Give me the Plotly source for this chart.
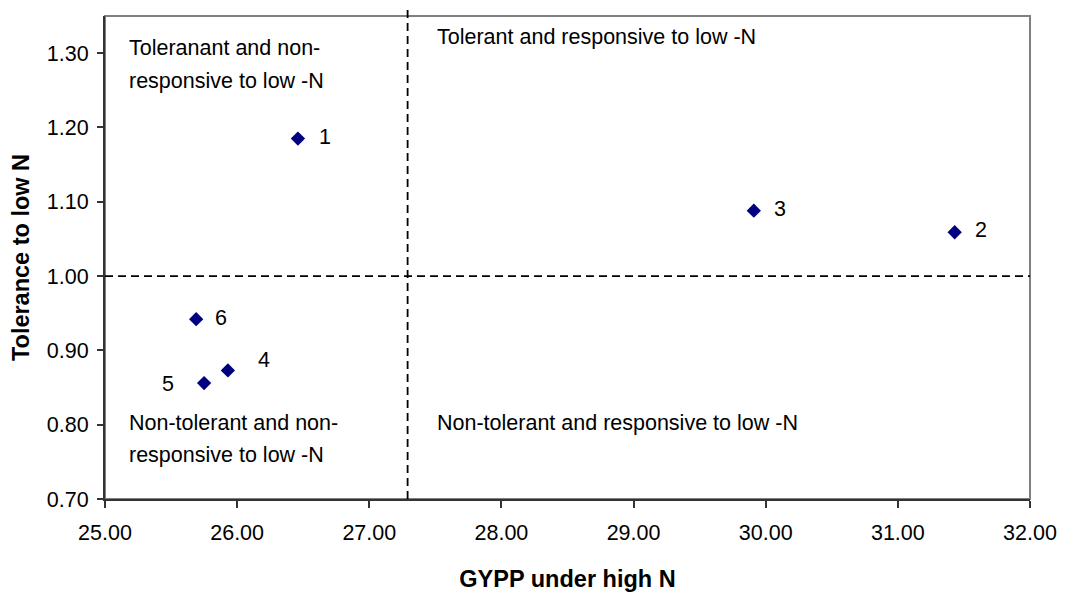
import plotly.graph_objects as go

# ---- data ----
genotype_labels = ["1", "2", "3", "4", "5", "6"]
gypp_high_n = [26.46, 31.43, 29.91, 25.93, 25.75, 25.69]
tolerance_low_n = [1.185, 1.059, 1.088, 0.873, 0.856, 0.942]

x_divider = 27.29
y_divider = 1.0

x_ticks = [25, 26, 27, 28, 29, 30, 31, 32]
y_ticks = [0.70, 0.80, 0.90, 1.00, 1.10, 1.20, 1.30]

quadrant_texts = [
    ("Toleranant and non-", 25.163, 1.3075),
    ("responsive to low -N", 25.163, 1.2627),
    ("Tolerant and responsive to low -N", 27.50, 1.322),
    ("Non-tolerant and non-", 25.163, 0.802),
    ("responsive to low -N", 25.163, 0.759),
    ("Non-tolerant and responsive to low -N", 27.50, 0.802),
]

# label offsets (pixels) per genotype label: (xshift, yshift, xanchor)
label_offsets = {
    "1": (19, 2, "left"),
    "2": (18, 2, "left"),
    "3": (18, 2, "left"),
    "4": (28, 10, "left"),
    "5": (-28, -1, "right"),
    "6": (17, 1, "left"),
}

FONT = "Liberation Sans, Arial, sans-serif"
FS = 21.5
TFS = 23.5

fig = go.Figure()
fig.add_trace(go.Scatter(
    x=gypp_high_n, y=tolerance_low_n, mode="markers",
    marker=dict(symbol="diamond", size=11, color="#000080", line=dict(width=0)),
    showlegend=False, hoverinfo="x+y",
))

for lab, xv, yv in zip(genotype_labels, gypp_high_n, tolerance_low_n):
    xs, ys, xa = label_offsets[lab]
    fig.add_annotation(x=xv, y=yv, text=lab, showarrow=False, xanchor=xa, yanchor="middle",
                       xshift=xs, yshift=ys, font=dict(family=FONT, size=FS, color="black"))

for txt, xv, yv in quadrant_texts:
    fig.add_annotation(x=xv, y=yv, text=txt, showarrow=False, xanchor="left", yanchor="middle",
                       font=dict(family=FONT, size=FS, color="black"))

# plot border (top/right gray)
fig.add_shape(type="rect", xref="paper", yref="paper", x0=0, y0=0, x1=1, y1=1,
              line=dict(color="#808080", width=2), layer="below")
# divider lines
fig.add_shape(type="line", xref="x", yref="paper", x0=x_divider, x1=x_divider, y0=0, y1=1.02,
              line=dict(color="black", width=1.8, dash="8px,5px"))
fig.add_shape(type="line", xref="x", yref="y", x0=25, x1=32, y0=y_divider, y1=y_divider,
              line=dict(color="black", width=1.8, dash="8px,5px"))

fig.update_xaxes(
    range=[25, 32], tickvals=x_ticks, ticktext=[f"{v:.2f}" for v in x_ticks],
    showgrid=False, zeroline=False, showline=True, linecolor="#333333", linewidth=2,
    ticks="outside", ticklen=7, tickwidth=1.5, tickcolor="#333333",
    tickfont=dict(family=FONT, size=FS, color="black"), ticklabelstandoff=6,
    title=dict(text="<b>GYPP under high N</b>", font=dict(family=FONT, size=TFS, color="black"), standoff=27),
)
fig.update_yaxes(
    range=[0.70, 1.35], tickvals=y_ticks, ticktext=[f"{v:.2f}" for v in y_ticks],
    showgrid=False, zeroline=False, showline=True, linecolor="#333333", linewidth=2,
    ticks="outside", ticklen=6, tickwidth=1.5, tickcolor="#333333",
    tickfont=dict(family=FONT, size=FS, color="black"), ticklabelstandoff=4,
    title=dict(text="<b>Tolerance to low N</b>", font=dict(family=FONT, size=TFS, color="black"), standoff=12),
)

# the page body has an 8px margin, so the figure is laid out 8px smaller
fig.update_layout(
    width=1075, height=587,
    margin=dict(l=97, r=53, t=8, b=96, autoexpand=False),
    plot_bgcolor="white", paper_bgcolor="white",
    font=dict(family=FONT, color="black"),
)

fig.write_html("out.html")
